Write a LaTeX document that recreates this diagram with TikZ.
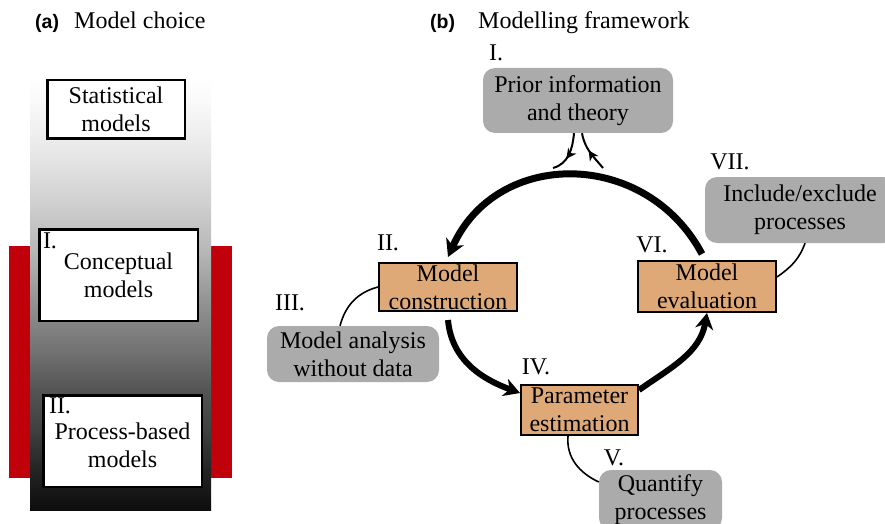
\documentclass[tikz,border=0pt]{standalone}
\usepackage{fontspec}
\setmainfont{Liberation Serif}
\newfontfamily\panelfont{Liberation Sans}
\newfontfamily\serifbox{Liberation Serif}
\usetikzlibrary{arrows.meta,decorations.markings}
\definecolor{boxorange}{RGB}{223,169,119}
\definecolor{boxgray}{RGB}{171,171,171}
\definecolor{barred}{RGB}{192,0,11}
\pgfdeclareverticalshading{colshade}{100bp}{color(0bp)=(black!95); color(25bp)=(black!95); color(29.6bp)=(black!86); color(34.25bp)=(black!75); color(38.85bp)=(black!67); color(43.5bp)=(black!55); color(49.25bp)=(black!42); color(55bp)=(black!28); color(60.8bp)=(black!18); color(66.5bp)=(black!9); color(72.35bp)=(black!2); color(75bp)=(white); color(100bp)=(white)}
\begin{document}
\begin{tikzpicture}[x=1pt,y=1pt,
  txt/.style={font=\serifbox\fontsize{24}{28}\selectfont, align=center, inner sep=0pt},
  wbox/.style={txt, draw=black, line width=2.5pt, fill=white},
  obox/.style={txt, draw=black, line width=2pt, fill=boxorange},
  gbox/.style={txt, fill=boxgray, rounded corners=12pt},
  num/.style={font=\serifbox\fontsize{24}{28}\selectfont, inner sep=0pt},
  panel/.style={font=\panelfont\bfseries\fontsize{19.5}{22}\selectfont, inner sep=0pt, anchor=base west},
  ttl/.style={font=\serifbox\fontsize{24}{28}\selectfont, inner sep=0pt, anchor=base west},
  bigarc/.style={line width=7pt, -{Stealth[length=17pt,width=19pt,inset=5pt]}},
  midarc/.style={line width=6pt, -{Stealth[length=16pt,width=18pt,inset=5pt]}},
  conn/.style={line width=1.6pt},
  loopline/.style={line width=2pt},
  midarrow/.style={decoration={markings, mark=at position #1 with {\arrow{Stealth[length=10pt,width=10pt,inset=3pt]}}}, postaction={decorate}}
]
\useasboundingbox (0,0) rectangle (885,523);
\clip (0,0) rectangle (885,523);
\fill[white] (0,0) rectangle (885,523);

% ---------- panel (a) ----------
\node[panel] (pa) at (35,494) {(a)};
\node[ttl] (ta) at (74,494) {Model choice};
\fill[barred] (9,45) rectangle (30,277);
\fill[barred] (211,45) rectangle (232,277);
\shade[shading=colshade] (30,13) rectangle (211,446);
\node[wbox, minimum width=137.5pt, minimum height=58.5pt] (stat) at (116,413.5) {Statistical\\models};
\node[wbox, minimum width=158.5pt, minimum height=91.5pt] (conc) at (118.5,248) {Conceptual\\models};
\node[num] (lconc) at (50,282) {I.};
\node[wbox, minimum width=158.5pt, minimum height=91.5pt] (proc) at (122.5,82) {\rule{0pt}{26pt}Process-based\\models};
\node[num] (lproc) at (60,117) {II.};

% ---------- panel (b) ----------
\node[panel] (pb) at (430,494) {(b)};
\node[ttl] (tb) at (478,494) {Modelling framework};

\node[num] (lprior) at (496,470.5) {I.};
\node[gbox, minimum width=190pt, minimum height=65pt] (prior) at (578,422.5) {Prior information\\and theory};

\node[obox, minimum width=138pt, minimum height=48pt] (mcon) at (448,236) {Model\\construction};
\node[num] (lmcon) at (388,280) {II.};

\node[obox, minimum width=138pt, minimum height=51pt] (mev) at (707,236.5) {Model\\evaluation};
\node[num] (lmev) at (652,278) {VI.};

\node[obox, minimum width=117pt, minimum height=50pt] (mpar) at (579.5,113) {Parameter\\estimation};
\node[num] (lmpar) at (536,156) {IV.};

\node[gbox, minimum width=172pt, minimum height=56pt] (mana) at (353,169) {Model analysis\\without data};
\node[num] (lmana) at (290,220) {III.};

\node[gbox, minimum width=123pt, minimum height=60pt] (quant) at (660.5,23) {Quantify\\processes};
\node[num] (lquant) at (614,65) {V.};

\node[gbox, minimum width=190pt, minimum height=66pt] (incl) at (800,313) {Include/exclude\\processes};
\node[num] (lincl) at (730,361) {VII.};

% main cycle
\draw[bigarc] ([shift={(-5,6)}]mev.north) to[out=118,in=66,looseness=1.2] ([shift={(0,5)}]mcon.north);
\draw[midarc] ([yshift=-8]mcon.south) to[out=-85,in=160] ([yshift=17]mpar.west);
\draw[midarc] ([yshift=20]mpar.east) to[out=35,in=-100] (mev.south);

% prior information loops
\coordinate (tl) at (553,355);
\coordinate (tr) at (603,355);
\draw[loopline, midarrow=0.62] ([xshift=-4]prior.south) to[out=-95,in=15] (tl);
\draw[loopline, midarrow=0.55] (tr) to[out=130,in=-80] ([xshift=4]prior.south);

% side connectors
\draw[conn] (mcon.west) to[out=195,in=75] ([xshift=-13]mana.north);
\draw[conn] ([xshift=-11.5]mpar.south) to[out=-95,in=155] ([yshift=18]quant.west);
\draw[conn] ([yshift=9.5]mev.east) to[out=35,in=-110] ([xshift=5]incl.south);
\end{tikzpicture}
\end{document}
